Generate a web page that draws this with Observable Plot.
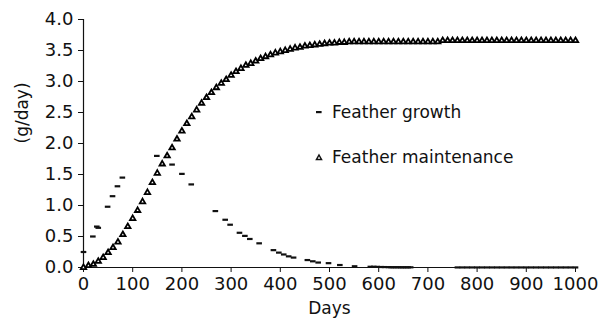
<!DOCTYPE html>
<html>
<head>
<meta charset="utf-8">
<script src="https://cdn.jsdelivr.net/npm/d3@7"></script>
<script src="https://cdn.jsdelivr.net/npm/@observablehq/plot@0.6"></script>
<style>
  html, body { margin: 0; padding: 0; background: #fff; }
  #wrap { position: relative; width: 604px; height: 325px; font-family: "DejaVu Sans", Verdana, sans-serif; }
  .leg { position: absolute; font-size: 17px; color: #111; white-space: nowrap; display: flex; align-items: center; }
  .leg svg { margin-right: 9px; }
</style>
</head>
<body>
<div id="wrap"></div>
<script>
// Feather maintenance (g/day), every 10 days from day 0 to 1000
const maintDays = d3.range(0, 1001, 10);
const maintValues = [
  0.00,0.03,0.05,0.10,0.16,0.24,0.32,0.41,0.53,0.66,
  0.79,0.92,1.06,1.21,1.37,1.52,1.67,1.80,1.93,2.07,
  2.20,2.32,2.43,2.54,2.65,2.74,2.82,2.90,2.97,3.03,
  3.10,3.16,3.21,3.26,3.29,3.33,3.37,3.40,3.43,3.46,
  3.48,3.50,3.52,3.54,3.55,3.57,3.58,3.59,3.60,3.61,
  3.62,3.62,3.63,3.63,
  3.64,3.64,3.64,3.64,3.64,3.64,3.64,3.64,3.64,3.64,
  3.64,3.64,3.64,3.64,3.64,3.64,3.64,3.64,3.64,
  3.66,3.66,3.66,3.66,3.66,3.66,3.66,3.66,3.66,3.66,
  3.66,3.66,3.66,3.66,3.66,3.66,3.66,3.66,3.66,3.66,
  3.66,3.66,3.66,3.66,3.66,3.66,3.66,3.66
];

// Feather growth (g/day), irregular sampling days
const growthDays = [
  0,19,27,30,49,59,69,79,149,180,200,219,268,288,298,317,328,338,357,386,
  397,407,417,427,455,466,477,498,521,551,583,590,597,605,612,620,
  625,630,635,640,645,650,655,660,665,
  760,770,780,790,800,810,820,830,840,850,860,870,880,890,900,910,920,930,940,950,960,970,980,990,1000
];
const growthValues = [
  0.25,0.50,0.66,0.64,0.98,1.15,1.31,1.45,1.80,1.66,1.51,1.34,0.91,0.77,0.69,0.56,0.51,0.46,0.39,0.28,
  0.24,0.21,0.18,0.16,0.12,0.10,0.08,0.07,0.04,0.02,0.012,0.012,0.010,0.008,0.007,0.006,
  0.004,0.004,0.004,0.004,0.003,0.003,0.003,0.003,0.003,
  0.001,0.001,0.001,0.001,0.001,0.001,0.001,0.001,0.001,0.001,0.001,0.001,0.001,0.001,0.001,0.001,0.001,0.001,0.001,0.001,0.001,0.001,0.001,0.001,0.001
];

const xTicks = [0,100,200,300,400,500,600,700,800,900,1000];
const yTicks = [0,0.5,1,1.5,2,2.5,3,3.5,4];
const seriesNames = ["Feather growth", "Feather maintenance"];

const maint = maintDays.map((d, i) => ({day: d, value: maintValues[i]}));
const growth = growthDays.map((d, i) => ({day: d, value: growthValues[i]}));

const dash = { draw(context) { context.rect(-2.8, -1.1, 5.6, 2.2); } };

const plot = Plot.plot({
  width: 604,
  height: 325,
  marginLeft: 83,
  marginRight: 29,
  marginTop: 19,
  marginBottom: 58,
  style: { fontFamily: "DejaVu Sans, Verdana, sans-serif", fontSize: "18px", color: "#111", background: "#fff" },
  x: { domain: [0, 1000] },
  y: { domain: [0, 4] },
  marks: [
    Plot.axisX({ ticks: xTicks, tickSize: 5, tickPadding: 5, tickFormat: d3.format("d"), label: null, fontSize: 18 }),
    Plot.axisY({ ticks: yTicks, tickSize: 5, tickPadding: 5, tickFormat: d3.format(".1f"), label: null, fontSize: 18 }),
    Plot.ruleX([0], { stroke: "#111", strokeWidth: 1.2 }),
    Plot.ruleY([0], { stroke: "#111", strokeWidth: 1.2 }),
    Plot.dot(growth, { x: "day", y: "value", symbol: dash, fill: "#111", stroke: "none", r: 3 }),
    Plot.dot(maint, { x: "day", y: "value", symbol: "triangle", r: 2.0, fill: "#fff", stroke: "#000", strokeWidth: 1.8 }),
    Plot.text(["Days"], { frameAnchor: "bottom", dy: 46, fontSize: 17, fill: "#111" }),
    Plot.text(["(g/day)"], { frameAnchor: "left", rotate: -90, dx: -61, fontSize: 17, fill: "#111" })
  ]
});

const wrap = document.getElementById("wrap");
wrap.appendChild(plot);

// legend
const legendItems = [
  { name: seriesNames[0], top: 102, sym: '<svg width="8" height="8"><rect x="1" y="3" width="5.6" height="2.2" fill="#111"/></svg>' },
  { name: seriesNames[1], top: 147, sym: '<svg width="8" height="8"><path d="M4,2 L6.5,6.4 L1.5,6.4 Z" fill="#fff" stroke="#111" stroke-width="1.5"/></svg>' }
];
for (const it of legendItems) {
  const el = document.createElement("div");
  el.className = "leg";
  el.style.left = "315px";
  el.style.top = it.top + "px";
  el.innerHTML = it.sym + "<span>" + it.name + "</span>";
  wrap.appendChild(el);
}
</script>
</body>
</html>
